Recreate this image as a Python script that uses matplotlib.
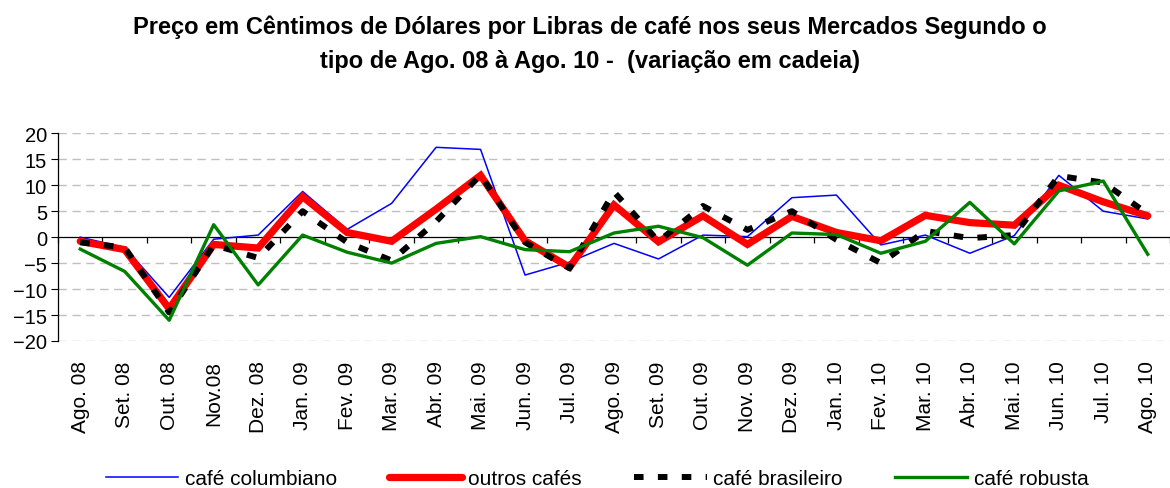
import matplotlib
matplotlib.use("Agg")
import matplotlib.pyplot as plt
import numpy as np

plt.rcParams['font.family'] = ['Liberation Sans', 'DejaVu Sans']

months = ["Ago. 08", "Set. 08", "Out. 08", "Nov.08", "Dez. 08", "Jan. 09", "Fev. 09",
          "Mar. 09", "Abr. 09", "Mai. 09", "Jun. 09", "Jul. 09", "Ago. 09", "Set. 09",
          "Out. 09", "Nov. 09", "Dez. 09", "Jan. 10", "Fev. 10", "Mar. 10", "Abr. 10",
          "Mai. 10", "Jun. 10", "Jul. 10", "Ago. 10"]

colombiano = [0.0, -2.0, -11.6, -0.4, 0.4, 8.8, 1.5, 6.5, 17.3, 16.9, -7.3, -4.8, -1.2,
              -4.2, 0.4, 0.1, 7.6, 8.1, -1.5, 0.4, -3.1, 0.3, 11.9, 5.0, 3.5]
outros = [-0.8, -2.4, -13.8, -1.4, -2.1, 7.8, 0.9, -0.8, 5.4, 11.9, -0.7, -5.8, 6.2,
          -0.9, 4.1, -1.4, 4.0, 0.9, -0.7, 4.2, 2.8, 2.3, 10.0, 6.8, 4.1]
brasileiro = [-1.0, -2.0, -14.5, -1.5, -4.0, 5.0, -1.0, -4.5, 3.0, 12.0, -1.0, -6.0, 8.7,
              -0.8, 6.0, 1.4, 5.0, -0.5, -5.0, 1.2, -0.2, 0.4, 11.8, 10.5, 4.5]
robusta = [-2.3, -6.6, -16.0, 2.4, -9.2, 0.4, -2.9, -5.0, -1.2, 0.1, -2.4, -2.8, 0.8,
           2.1, -0.1, -5.4, 0.8, 0.5, -3.1, -0.8, 6.7, -1.3, 8.9, 10.8, -3.3]

labels = ["café columbiano", "outros cafés", "café brasileiro", "café robusta"]
title = ("Preço em Cêntimos de Dólares por Libras de café nos seus Mercados Segundo o\n"
         "tipo de Ago. 08 à Ago. 10 -  (variação em cadeia)")

fig = plt.figure(figsize=(11.7, 4.89), dpi=100)
ax = fig.add_axes([58/1170, 1-342/489, 1-58/1170, (342-134.3)/489])

x = np.arange(len(months)) + 0.5
ax.plot(x, colombiano, color='#0000ff', lw=1.1, label=labels[0], zorder=3)
ax.plot(x, outros, color='#ff0000', lw=5.2, label=labels[1], zorder=4,
        solid_capstyle='round', solid_joinstyle='miter')
ax.plot(x, brasileiro, color='black', lw=4.3, dashes=(1.6, 2.4), label=labels[2],
        zorder=5, dash_capstyle='butt')
ax.plot(x, robusta, color='#008000', lw=2.4, label=labels[3], zorder=6)

ax.set_xlim(0, len(months))
ax.set_ylim(-20, 20)
ax.set_yticks(np.arange(-20, 21, 5))
ax.tick_params(axis='y', labelsize=14.5, length=5, direction='out', pad=3)

for v in [-20, -15, -10, -5, 5, 10, 15, 20]:
    ax.axhline(v, color='#c0c0c0', lw=1.0, dashes=(6, 4), zorder=1)

for s in ['top', 'right']:
    ax.spines[s].set_visible(False)
ax.spines['left'].set_linewidth(0.9)
ax.spines['bottom'].set_position(('data', 0))
ax.spines['bottom'].set_linewidth(0.9)
ax.spines['bottom'].set_zorder(2)
ax.set_xticks(np.arange(0, len(months) + 1))
ax.set_xticklabels([])
ax.tick_params(axis='x', length=4, direction='out', width=0.9)

sec = ax.secondary_xaxis(0.0)
sec.set_xticks(x)
sec.set_xticklabels(months, rotation=90, fontsize=15)
sec.tick_params(length=0, pad=14)
sec.spines['bottom'].set_visible(False)

fig.text(0.504, 0.910, title, ha='center', va='center', fontsize=17,
         fontweight='bold', linespacing=1.6)

fig.legend(loc='center', bbox_to_anchor=(597/1170, 1-480/489), ncol=4,
           frameon=False, fontsize=15, handlelength=3.5, handletextpad=0.3,
           columnspacing=2.5)

fig.savefig('out.png', dpi=100)
